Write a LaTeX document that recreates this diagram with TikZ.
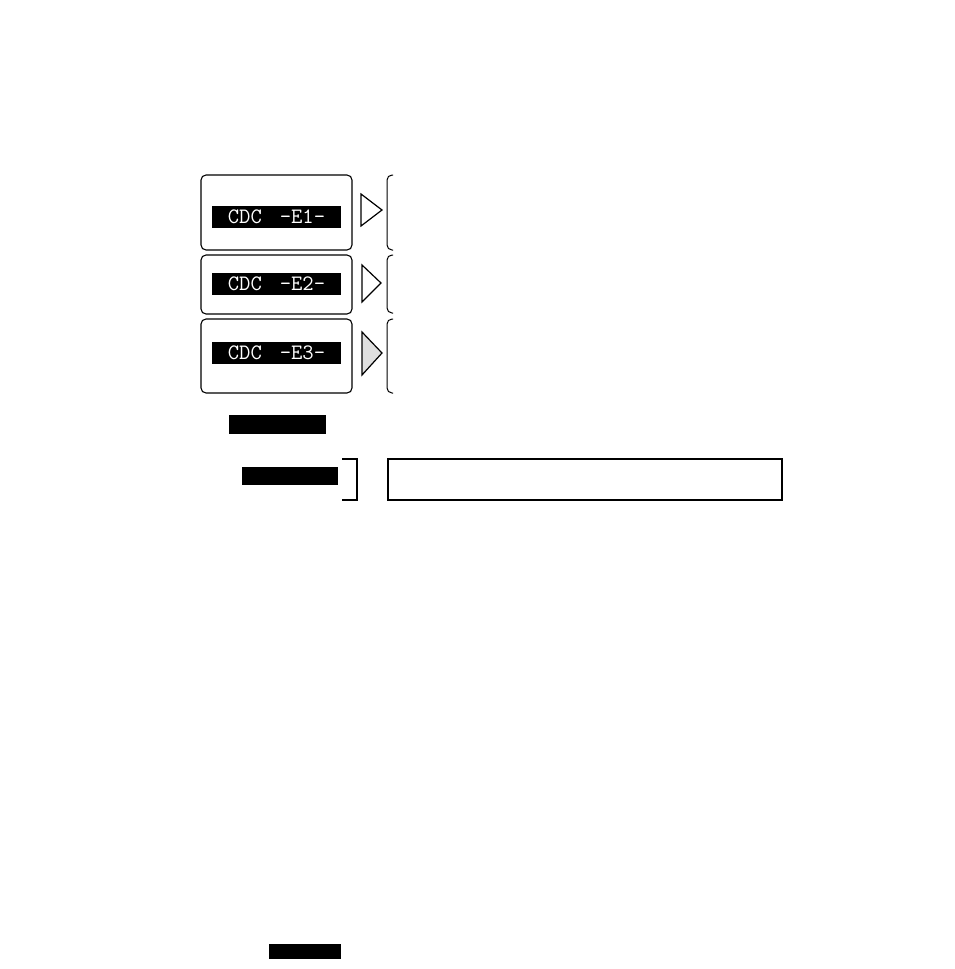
\documentclass[tikz,border=0pt]{standalone}
\usepackage{tikz}
\usepackage{xcolor}

\begin{document}
\begin{tikzpicture}[x=1pt,y=-1pt,
  panel/.style={draw, rounded corners=5pt, line width=1.1pt, minimum width=151pt, inner sep=0pt},
  lcd/.style={fill=black, text=white, minimum width=129pt, minimum height=22pt, inner sep=0pt,
    font=\fontsize{22}{22}\ttfamily},
  bar/.style={fill=black, inner sep=0pt},
  arrowhead/.style={draw, line width=1.2pt, line join=miter},
  curl/.style={draw, rounded corners=5pt, line width=1pt}]
\useasboundingbox (0,0) rectangle (954,969);
\node [panel, minimum height=75pt] (panelA) at (276.5,212.5) {};
\node [panel, minimum height=59pt] (panelB) at (276.5,284.5) {};
\node [panel, minimum height=74pt] (panelC) at (276.5,356) {};
\node [lcd] (lcdA) at (276.5,217) {CDC\hspace{18pt}-E1-};
\node [lcd] (lcdB) at (276.5,284) {CDC\hspace{18pt}-E2-};
\node [lcd] (lcdC) at (276.5,352.5) {CDC\hspace{18pt}-E3-};
\draw [arrowhead] (361,194) -- (382,210) -- (361,226) -- cycle;
\draw [arrowhead] (362,265) -- (381,283) -- (362,302) -- cycle;
\draw [arrowhead, fill=gray!25] (362,332) -- (382,353) -- (362,375) -- cycle;
\draw [curl] (393,175) -- (387,175) -- (387,250) -- (393,250);
\draw [curl] (393,255) -- (387,255) -- (387,313) -- (393,313);
\draw [curl] (393,319) -- (387,319) -- (387,393) -- (393,393);
\node [bar, minimum width=97pt, minimum height=19pt] (barA) at (277.5,424.5) {};
\node [bar, minimum width=96pt, minimum height=18pt] (barB) at (290,476) {};
\draw [line width=1.2pt] (342,459) -- (357,459) -- (357,500) -- (342,500);
\node [draw, line width=1.2pt, minimum width=394pt, minimum height=41pt, inner sep=0pt] (note) at (585,479.5) {};
\node [bar, minimum width=72pt, minimum height=15pt] (barC) at (305,951.5) {};
\end{tikzpicture}
\end{document}
